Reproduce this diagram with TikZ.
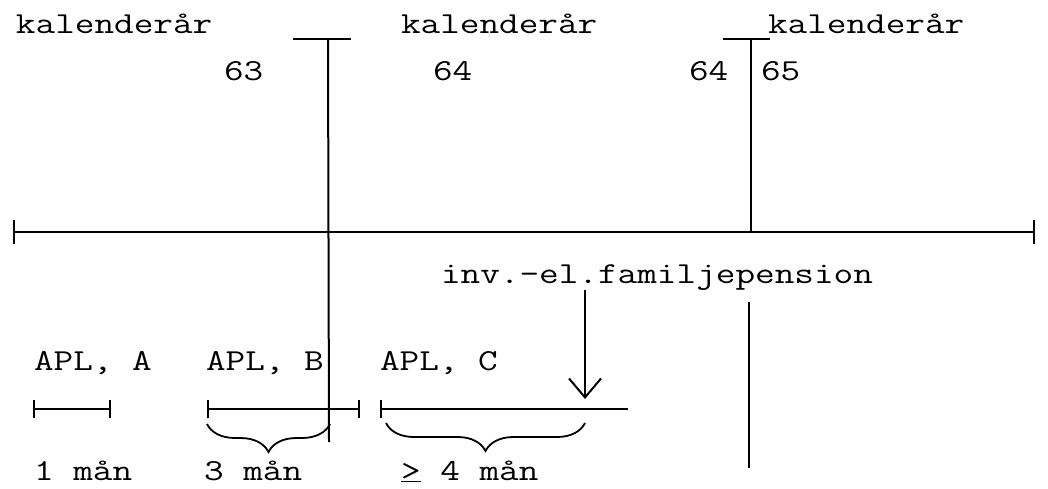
\documentclass[tikz,border=0pt]{standalone}
\usepackage{fontspec}
\setmonofont[FakeStretch=1.25]{Latin Modern Mono}
\usetikzlibrary{arrows.meta,decorations.pathreplacing,positioning}

\begin{document}
\begin{tikzpicture}[x=1pt, y=-1pt, line width=2pt,
  txt/.style={anchor=base west, inner sep=0pt, font=\ttfamily\fontsize{30.5}{36}\selectfont},
  span/.style={{Bar[width=18pt]}-{Bar[width=18pt]}},
  curly/.style={decorate, decoration={brace, mirror, amplitude=28pt}, line width=1.8pt}]
\useasboundingbox (0,0) rectangle (1048,488);

% year labels
\node [txt] (kalA) at (15,33) {kalenderår};
\node [txt] (kalB) at (400,33) {kalenderår};
\node [txt] (kalC) at (767,33) {kalenderår};
\node [txt] (y63) at (223,80) {63};
\node [txt] (y64a) at (432,80) {64};
\node [txt] (y64b) at (688,80) {64};
\node [txt] (y65) at (760,80) {65};

% time axis
\coordinate (axL) at (13,232);
\coordinate (axR) at (1035,232);
\draw [{Bar[width=24pt]}-{Bar[width=24pt]}] (axL) -- (axR);

% year boundaries
\coordinate (capAl) at (293,39);
\coordinate (capAr) at (351,39);
\coordinate (cutAtop) at (328,39);
\coordinate (cutAbot) at (329,442);
\draw (capAl) -- (capAr);
\draw (cutAtop) -- (cutAbot);

\coordinate (capBl) at (723,39);
\coordinate (capBr) at (770,39);
\coordinate (cutBtop) at (751,39);
\coordinate (cutBaxis) at (751,232);
\coordinate (cutBlo) at (749,302);
\coordinate (cutBhi) at (749,468);
\draw (capBl) -- (capBr);
\draw (cutBtop) -- (cutBaxis);
\draw (cutBlo) -- (cutBhi);

% pension
\node [txt] (pens) at (440,283) {inv.-el.familjepension};
\coordinate (pensDown) at (585,290);
\coordinate (hit) at (585,399);
\draw [-{Straight Barb[length=19pt, width=32pt]}] (pensDown) -- (hit);

% APL periods
\node [txt] (aplA) at (33,370) {APL, A};
\node [txt] (aplB) at (205,370) {APL, B};
\node [txt] (aplC) at (379,370) {APL, C};

\coordinate (sA1) at (33,409);
\coordinate (sA2) at (111,409);
\coordinate (sB1) at (207,409);
\coordinate (sB2) at (360,409);
\coordinate (sC1) at (380,409);
\coordinate (sC2) at (628,409);
\draw [span] (sA1) -- (sA2);
\draw [span] (sB1) -- (sB2);
\draw [{Bar[width=18pt]}-] (sC1) -- (sC2);

\coordinate (bB1) at (207,424);
\coordinate (bB2) at (330,424);
\coordinate (bC1) at (386,423);
\coordinate (bC2) at (585,423);
\draw [curly] (bB1) -- (bB2);
\draw [curly] (bC1) -- (bC2);

\node [txt] (manA) at (33,480) {1 mån};
\node [txt] (manB) at (203,480) {3 mån};
\node [txt] (manC) at (400,480) {\underline{>} 4 mån};

\end{tikzpicture}
\end{document}
